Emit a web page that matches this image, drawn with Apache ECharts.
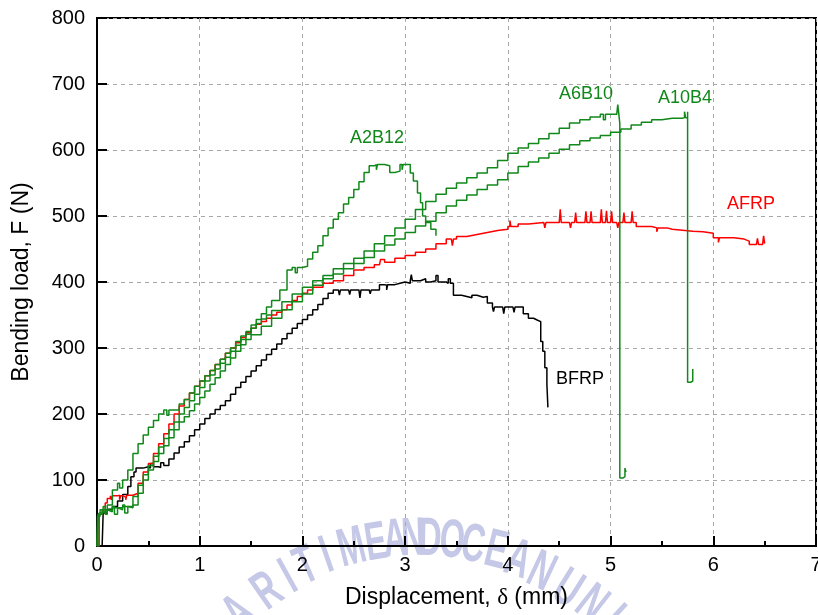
<!DOCTYPE html>
<html><head><meta charset="utf-8">
<script src="https://cdn.jsdelivr.net/npm/echarts@6/dist/echarts.min.js"></script>
<style>html,body{margin:0;padding:0;background:#fff}#c{width:818px;height:615px}</style>
</head><body><div id="c"></div>
<script>
// ---- data (displacement mm, load N) ----
const BFRP = [[0.05,0],[0.06,0],[0.06,50],[0.1,55],[0.15,60],[0.2,68],[0.25,78],[0.3,90],[0.33,105],[0.36,112],[0.38,118],[0.45,120],[0.5,118],[0.52,125],[0.55,120],[0.6,119],[0.62,126],[0.65,122],[0.7,132],[0.75,141],[0.8,150],[0.85,158],[0.9,167],[0.95,176],[1.0,185],[1.05,193],[1.1,200],[1.15,207],[1.2,213],[1.25,220],[1.3,230],[1.35,240],[1.4,248],[1.45,257],[1.5,265],[1.55,273],[1.6,282],[1.65,290],[1.7,298],[1.75,306],[1.8,314],[1.85,322],[1.9,330],[1.95,337],[2.0,343],[2.05,350],[2.1,358],[2.15,366],[2.2,375],[2.25,383],[2.3,388],[2.35,388],[2.36,380],[2.37,388],[2.45,388],[2.46,381],[2.47,388],[2.55,388],[2.56,376],[2.57,388],[2.65,388],[2.66,382],[2.67,388],[2.75,396],[2.8,395],[2.82,388],[2.83,396],[2.9,398],[2.95,400],[3.0,398],[3.05,402],[3.06,411],[3.07,402],[3.15,405],[3.2,400],[3.25,402],[3.3,410],[3.32,400],[3.4,398],[3.42,405],[3.44,398],[3.47,380],[3.55,378],[3.6,376],[3.65,380],[3.7,377],[3.76,378],[3.8,368],[3.85,362],[3.86,355],[3.87,362],[3.95,360],[3.96,352],[3.97,362],[4.05,360],[4.06,354],[4.07,362],[4.12,362],[4.15,352],[4.2,345],[4.25,342],[4.29,340],[4.32,310],[4.34,295],[4.36,270],[4.38,245],[4.39,210]];
const AFRP = [[0,0],[0.02,0],[0.02,48],[0.05,55],[0.08,65],[0.1,72],[0.13,76],[0.14,70],[0.15,76],[0.2,77],[0.22,70],[0.23,76],[0.25,74],[0.28,70],[0.29,77],[0.35,80],[0.4,95],[0.45,112],[0.5,125],[0.55,140],[0.6,155],[0.65,170],[0.7,185],[0.75,200],[0.8,212],[0.85,222],[0.9,232],[0.95,242],[1.0,250],[1.05,258],[1.1,266],[1.15,275],[1.2,283],[1.25,292],[1.3,300],[1.35,308],[1.4,316],[1.45,323],[1.5,330],[1.55,336],[1.6,340],[1.65,345],[1.7,350],[1.75,354],[1.8,358],[1.85,365],[1.9,372],[1.95,378],[2.0,383],[2.05,388],[2.1,392],[2.2,398],[2.3,402],[2.4,410],[2.5,418],[2.6,422],[2.7,426],[2.75,426],[2.76,434],[2.8,430],[2.9,436],[3.0,440],[3.1,445],[3.2,450],[3.3,458],[3.4,465],[3.45,465],[3.46,455],[3.47,465],[3.5,469],[3.6,472],[3.7,475],[3.8,478],[3.9,480],[4.0,484],[4.02,493],[4.03,484],[4.1,488],[4.2,490],[4.35,490],[4.36,482],[4.37,490],[4.5,490],[4.51,510],[4.52,490],[4.6,490],[4.61,482],[4.62,490],[4.65,490],[4.66,505],[4.67,490],[4.75,490],[4.76,507],[4.77,490],[4.8,490],[4.81,507],[4.82,490],[4.9,490],[4.91,510],[4.92,490],[4.95,490],[4.96,508],[4.97,490],[5.0,490],[5.01,507],[5.02,490],[5.06,490],[5.07,482],[5.08,490],[5.12,490],[5.13,505],[5.14,490],[5.2,490],[5.21,507],[5.22,490],[5.25,484],[5.4,482],[5.45,476],[5.46,482],[5.55,480],[5.6,477],[5.8,476],[5.9,474],[6.0,467],[6.05,460],[6.06,467],[6.2,465],[6.3,462],[6.35,457],[6.42,457],[6.43,466],[6.44,457],[6.48,460],[6.49,470],[6.5,458]];
const A2B12 = [[0,0],[0.005,0],[0.005,45],[0.03,55],[0.06,60],[0.08,48],[0.1,62],[0.15,85],[0.2,95],[0.22,88],[0.25,100],[0.3,115],[0.35,140],[0.4,155],[0.45,168],[0.5,180],[0.55,190],[0.6,200],[0.65,206],[0.68,198],[0.7,206],[0.75,206],[0.8,215],[0.85,222],[0.9,232],[0.95,242],[1.0,250],[1.05,258],[1.1,266],[1.15,275],[1.2,283],[1.25,292],[1.3,300],[1.35,310],[1.4,318],[1.45,325],[1.5,335],[1.55,343],[1.6,352],[1.65,362],[1.7,372],[1.78,388],[1.85,418],[1.9,422],[1.93,414],[1.95,422],[2.0,424],[2.05,435],[2.1,445],[2.15,455],[2.2,470],[2.25,482],[2.3,495],[2.35,505],[2.4,518],[2.45,528],[2.5,540],[2.55,552],[2.6,566],[2.65,576],[2.7,578],[2.72,570],[2.73,578],[2.8,576],[2.85,566],[2.9,568],[2.95,578],[2.97,570],[2.98,578],[3.0,578],[3.05,565],[3.08,553],[3.12,535],[3.15,520],[3.17,500],[3.2,490],[3.25,480],[3.3,470]];
const A6B10 = [[0,0],[0.01,0],[0.01,48],[0.05,52],[0.1,56],[0.15,60],[0.17,48],[0.2,58],[0.25,62],[0.27,50],[0.3,60],[0.35,75],[0.4,92],[0.45,108],[0.5,122],[0.55,136],[0.6,150],[0.65,163],[0.7,176],[0.75,188],[0.8,200],[0.85,210],[0.9,220],[0.95,230],[1.0,240],[1.05,250],[1.1,259],[1.15,268],[1.2,277],[1.25,286],[1.3,295],[1.35,304],[1.4,313],[1.45,321],[1.5,330],[1.55,337],[1.6,344],[1.65,350],[1.7,357],[1.8,370],[1.9,382],[2.0,392],[2.1,402],[2.2,410],[2.3,420],[2.4,428],[2.5,436],[2.6,447],[2.7,458],[2.8,470],[2.9,482],[3.0,495],[3.1,510],[3.2,522],[3.3,533],[3.4,542],[3.5,550],[3.6,558],[3.7,565],[3.8,573],[3.9,584],[4.0,595],[4.1,603],[4.2,610],[4.3,617],[4.4,625],[4.5,633],[4.6,641],[4.7,646],[4.8,650],[4.9,654],[4.93,646],[4.95,654],[5.0,654],[5.06,655],[5.07,669],[5.08,655],[5.09,640],[5.09,103],[5.12,105],[5.14,118],[5.15,112]];
const A10B4 = [[0,0],[0.02,0],[0.02,50],[0.06,55],[0.1,52],[0.15,58],[0.2,55],[0.25,60],[0.3,58],[0.35,62],[0.4,80],[0.45,100],[0.5,115],[0.55,128],[0.6,140],[0.65,152],[0.7,164],[0.75,176],[0.8,188],[0.85,196],[0.9,205],[0.95,215],[1.0,225],[1.05,235],[1.1,245],[1.15,255],[1.2,265],[1.25,275],[1.3,285],[1.35,295],[1.4,305],[1.45,313],[1.5,320],[1.6,333],[1.7,345],[1.8,358],[1.9,370],[2.0,382],[2.1,395],[2.2,405],[2.3,412],[2.4,420],[2.5,428],[2.6,437],[2.7,447],[2.8,456],[2.9,465],[3.0,475],[3.1,485],[3.2,492],[3.3,505],[3.4,515],[3.5,524],[3.6,532],[3.7,540],[3.8,547],[3.9,555],[4.0,565],[4.1,575],[4.2,582],[4.3,588],[4.4,595],[4.5,601],[4.6,608],[4.7,614],[4.8,618],[4.9,622],[5.0,627],[5.1,632],[5.2,638],[5.3,642],[5.4,646],[5.5,648],[5.6,648],[5.7,649],[5.72,658],[5.73,649],[5.75,658],[5.75,248],[5.78,250],[5.8,268]];
const seriesNames = ['BFRP','AFRP','A2B12','A6B10','A10B4'];
const seriesData = [BFRP, AFRP, A2B12, A6B10, A10B4];
const seriesColors = ['#000000','#ff0000','#11881a','#11881a','#11881a'];
const xName = 'Displacement, {d|δ} (mm)';
const yName = 'Bending load, F (N)';
const watermarkText = 'ARITIMEANDOCEANUNI';

const GREEN = '#11881a';
const labelFont = 'Liberation Sans, Arial, sans-serif';

const chart = echarts.init(document.getElementById('c'), null, {renderer:'canvas'});

// series labels (pixel placement)
const seriesLabels = [
  {t:'A2B12', x:377, y:138, c:GREEN},
  {t:'A6B10', x:586, y:94, c:GREEN},
  {t:'A10B4', x:685, y:98, c:GREEN},
  {t:'AFRP',  x:751, y:204, c:'#ff0000'},
  {t:'BFRP',  x:580, y:379, c:'#000000'}
];
// watermark letters placed along an arc
const wmPos = [[240,614,-42],[268,592,-35],[289,578,-29],[307,567,-24],[327,557,-19],[352,549,-14],[376,544,-9],[395,541,-5],[413,540,-2],[430,540,1],[452,542,5],[473,546,9],[496,552,14],[518,561,19],[541,573,25],[567,590,32],[591,605,38],[611,620,43]];

const graphic = [];
wmPos.forEach((p,i)=>{
  graphic.push({type:'text', x:p[0], y:p[1], rotation:-p[2]*Math.PI/180, scaleX:0.6, z:-10, silent:true,
    style:{text:watermarkText[i], fill:'#c5c8e6', font:'bold 54px "Liberation Sans", Arial, sans-serif', align:'center', verticalAlign:'middle', textAlign:'center', textVerticalAlign:'middle'}});
});
seriesLabels.forEach(l=>{
  graphic.push({type:'text', x:l.x, y:l.y, z:100,
    style:{text:l.t, fill:l.c, font:'18px "Liberation Sans", Arial, sans-serif', align:'center', verticalAlign:'middle', textAlign:'center', textVerticalAlign:'middle'}});
});

const axisCommon = {
  axisLine:{show:true, onZero:false, lineStyle:{color:'#000', width:2}},
  axisTick:{show:true, inside:true, length:10, lineStyle:{color:'#000', width:2}},
  axisLabel:{color:'#000', fontSize:20, fontFamily:labelFont},
  splitLine:{show:true, lineStyle:{color:'#a8a8a8', width:1, type:[4,4]}}
};

chart.setOption({
  animation:false,
  backgroundColor:'#fff',
  grid:{left:97, right:2, top:18, bottom:69, show:true, borderColor:'#000', borderWidth:2, backgroundColor:'transparent', outerBoundsMode:'none', containLabel:false},
  xAxis:Object.assign({}, axisCommon, {
    type:'value', min:0, max:7, interval:1,
    axisLabel:Object.assign({}, axisCommon.axisLabel, {margin:9, hideOverlap:false}),
    minorTick:{show:true, splitNumber:2, length:5, lineStyle:{color:'#000', width:2}},
    name:xName, nameLocation:'middle', nameGap:40,
    nameTextStyle:{color:'#000', fontSize:23, fontFamily:labelFont, rich:{d:{fontFamily:'Liberation Serif, Times New Roman, serif', fontSize:23, color:'#000'}}}
  }),
  yAxis:Object.assign({}, axisCommon, {
    type:'value', min:0, max:800, interval:100,
    axisLabel:Object.assign({}, axisCommon.axisLabel, {margin:12}),
    name:yName, nameLocation:'middle', nameGap:64,
    nameTextStyle:{color:'#000', fontSize:23, fontFamily:labelFont}
  }),
  series: seriesNames.map((n,i)=>({
    name:n, type:'line', data:seriesData[i], step:'end', showSymbol:false, symbol:'none',
    lineStyle:{color:seriesColors[i], width:1.5}, itemStyle:{color:seriesColors[i]}, clip:true, z:2+i
  })),
  graphic: graphic
});
</script></body></html>
